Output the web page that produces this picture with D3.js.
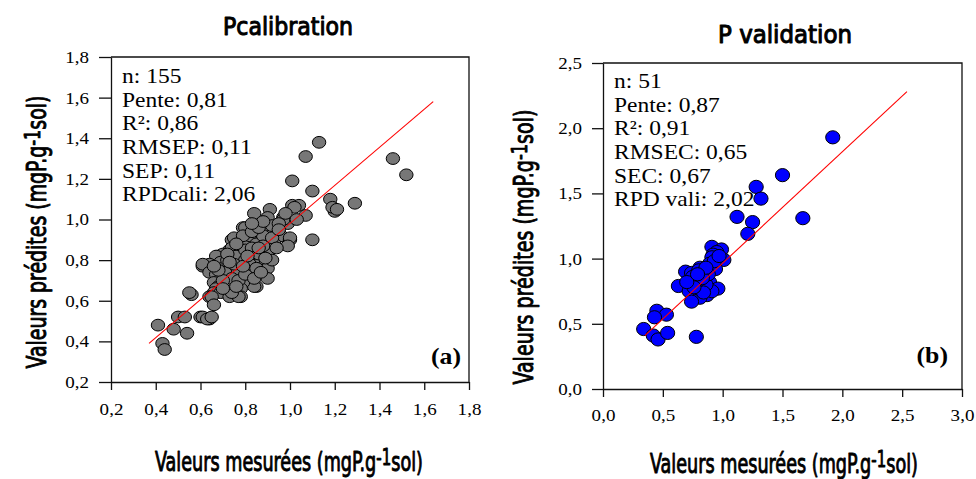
<!DOCTYPE html>
<html><head><meta charset="utf-8">
<script src="https://cdn.jsdelivr.net/npm/d3@7"></script>
<style>
html,body{margin:0;padding:0;background:#fff;}
svg{display:block;}
</style></head>
<body>
<svg id="chart" width="976" height="479"></svg>
<script>
// ---------- DATA ----------
const calX = [1.13,1.07,1.46,1.52,1.01,1.10,1.18,1.29,1.20,1.19,1.21,1.10,1.01,1.04,1.02,1.07,0.91,0.84,0.90,0.97,
0.99,0.97,0.79,0.84,0.90,0.80,0.89,0.93,0.96,1.00,1.00,0.74,0.81,0.87,0.75,0.86,0.93,0.99,0.73,0.81,
0.87,0.78,0.81,0.90,0.90,0.74,0.79,0.84,0.90,0.68,0.70,0.67,0.78,0.84,0.87,0.61,0.64,0.61,0.69,0.73,
0.77,0.78,0.87,0.81,0.81,0.89,0.90,0.64,0.69,0.67,0.71,0.75,0.73,0.78,0.83,0.90,0.85,0.84,0.66,0.72,
0.74,0.73,0.79,0.78,0.68,0.67,0.66,0.69,0.56,0.55,0.73,0.78,0.77,0.64,0.65,0.66,0.60,0.61,0.64,0.63,
0.65,0.50,0.53,0.41,0.48,0.54,0.43,0.44,
0.70,0.72,0.76,0.80,0.82,0.85,0.88,0.92,0.95,0.76,0.80,0.83,0.86,0.88,0.71,0.74,0.77,0.80,0.82,0.85,
0.75,0.72,0.79,0.83,0.86,0.92,0.94,0.70,0.68,0.66,0.76,0.79,0.84,0.87,0.92,0.95,0.98,1.03,0.88,0.83,
0.74,0.70,0.76,0.81,0.86,0.89,0.73];
const calY = [1.38,1.31,1.30,1.22,1.19,1.14,1.10,1.08,1.04,1.06,1.05,0.90,1.07,1.07,1.06,1.02,1.05,1.03,1.01,1.01,
0.98,1.00,0.96,0.95,0.95,0.96,0.95,0.94,0.92,0.90,0.91,0.90,0.90,0.90,0.91,0.90,0.88,0.87,0.85,0.87,
0.85,0.88,0.88,0.88,0.83,0.86,0.84,0.83,0.84,0.82,0.83,0.82,0.81,0.80,0.80,0.77,0.78,0.78,0.79,0.76,
0.79,0.79,0.79,0.75,0.77,0.78,0.76,0.74,0.73,0.73,0.71,0.73,0.75,0.72,0.74,0.71,0.67,0.67,0.69,0.69,
0.68,0.68,0.69,0.66,0.67,0.66,0.64,0.64,0.63,0.64,0.62,0.62,0.62,0.62,0.62,0.58,0.52,0.52,0.51,0.51,
0.52,0.52,0.52,0.48,0.46,0.44,0.39,0.36,
0.76,0.80,0.82,0.85,0.92,0.88,0.92,0.97,0.98,0.74,0.80,0.86,0.83,0.87,0.74,0.71,0.70,0.73,0.78,0.76,
0.78,0.83,0.92,0.94,0.96,0.91,0.86,0.70,0.75,0.77,0.88,0.77,0.71,0.74,0.80,0.95,1.03,1.00,0.99,0.98,
0.64,0.66,0.67,0.82,0.86,0.81,0.79];
const valX = [1.92,1.50,1.28,1.32,1.12,1.67,1.25,1.21,0.91,0.99,0.95,0.92,1.01,0.91,0.89,0.94,0.81,0.69,0.74,0.84,
0.80,0.78,0.75,0.89,0.63,0.96,0.72,0.87,0.81,0.74,0.91,0.80,0.86,0.77,0.84,0.45,0.53,0.43,0.34,0.42,
0.46,0.54,0.78,0.88,0.83,0.93,0.76,0.70,0.86,0.79,0.97];
const valY = [1.93,1.64,1.55,1.46,1.32,1.31,1.28,1.19,1.09,1.07,1.05,1.03,0.99,1.01,0.96,0.92,0.93,0.90,0.89,0.89,
0.91,0.84,0.86,0.82,0.79,0.77,0.75,0.72,0.70,0.67,0.75,0.77,0.80,0.80,0.74,0.60,0.57,0.55,0.46,0.41,
0.38,0.43,0.40,0.88,0.85,0.98,0.78,0.82,0.93,0.88,1.02];
const calFit = [[0.37,0.39],[1.64,1.58]];
const valFit = [[0.35,0.41],[2.54,2.28]];
const calTicks = [0.2,0.4,0.6,0.8,1.0,1.2,1.4,1.6,1.8];
const valTicks = [0.0,0.5,1.0,1.5,2.0,2.5,3.0];
const valYTicks = [0.0,0.5,1.0,1.5,2.0,2.5];
const calStats = ["n: 155","Pente: 0,81","R²: 0,86","RMSEP: 0,11","SEP: 0,11","RPDcali: 2,06"];
const valStats = ["n: 51","Pente: 0,87","R²: 0,91","RMSEC: 0,65","SEC: 0,67","RPD vali: 2,02"];
const titles = ["Pcalibration","P validation"];
const panelTags = ["(a)","(b)"];

// ---------- DRAW ----------
const svg = d3.select("#chart");
const condensed = "'DejaVu Sans Condensed','DejaVu Sans',sans-serif";
const serif = "'Liberation Serif','Times New Roman',serif";
const fmt = d => d3.format(".1f")(d).replace(".", ",");
const SX = 1.12; // horizontal stretch of the serif texts

function fitText(sel, tx, ty, rot, width) {
  const w = sel.node().getBBox().width;
  sel.attr("transform", `translate(${tx},${ty}) rotate(${rot}) scale(${width / w},1)`);
}

function labelText(g, main, tx, ty, rot, width, size) {
  const t = g.append("text").attr("x", 0).attr("y", 0)
    .attr("text-anchor", "middle").attr("font-family", condensed)
    .style("font-stretch", "condensed")
    .attr("stroke", "#000").attr("stroke-width", 0.9).attr("stroke-linejoin", "round")
    .attr("font-size", size).attr("fill", "#000");
  t.append("tspan").text(main);
  t.append("tspan").attr("dy", -6).attr("font-size", size * 0.85).text("-1");
  t.append("tspan").attr("dy", 6).text("sol)");
  fitText(t, tx, ty, rot, width);
}

function panel(cfg) {
  const g = svg.append("g");
  const x = d3.scaleLinear().domain(cfg.xd).range([cfg.l, cfg.r]);
  const y = d3.scaleLinear().domain(cfg.yd).range([cfg.b, cfg.t]);

  // frame (top and right)
  g.append("path")
    .attr("d", `M${cfg.l},${cfg.t}H${cfg.r}V${cfg.b}`)
    .attr("fill", "none").attr("stroke", "#111").attr("stroke-width", 1.3);

  const ax = g.append("g").attr("transform", `translate(0,${cfg.b})`)
    .call(d3.axisBottom(x).tickValues(cfg.xt).tickFormat(fmt).tickSize(8).tickSizeOuter(0));
  const ay = g.append("g").attr("transform", `translate(${cfg.l},0)`)
    .call(d3.axisLeft(y).tickValues(cfg.yt).tickFormat(fmt).tickSize(cfg.ytl).tickSizeOuter(0));
  [ax, ay].forEach(a => {
    a.attr("font-family", serif).attr("font-size", 17);
    a.selectAll("path,line").attr("stroke", "#111").attr("stroke-width", 1.3);
    a.selectAll("text").style("font-family", serif).style("font-size", "17px").attr("fill", "#000");
  });
  ax.selectAll("text").attr("y", cfg.xlabOff).attr("dy", null)
    .attr("transform", `scale(${SX},1)`);
  ay.selectAll("text").attr("x", cfg.ylabOff / SX)
    .attr("transform", `scale(${SX},1)`);

  // points
  g.append("g").selectAll("ellipse").data(cfg.px.map((d, i) => [d, cfg.py[i]]))
    .join("ellipse")
    .attr("cx", d => x(d[0])).attr("cy", d => y(d[1]))
    .attr("rx", cfg.rx).attr("ry", cfg.ry)
    .attr("fill", cfg.fill).attr("stroke", "#000").attr("stroke-width", 1);

  // fit line
  g.append("path").attr("d", d3.line().x(d => x(d[0])).y(d => y(d[1]))(cfg.fit))
    .attr("stroke", "#ff0000").attr("stroke-width", 1.1).attr("fill", "none");

  // stats
  g.append("g").attr("transform", `translate(${cfg.sx},0) scale(${SX},1)`)
    .selectAll("text").data(cfg.stats).join("text")
    .attr("x", 0).attr("y", (d, i) => cfg.sy + i * 23.7)
    .attr("font-family", serif).attr("font-size", 21).attr("fill", "#000")
    .text(d => d);

  // tag
  g.append("g").attr("transform", `translate(${cfg.tagX},0) scale(${SX},1)`)
    .append("text").attr("x", 0).attr("y", cfg.tagY).attr("text-anchor", "end")
    .attr("font-family", serif).attr("font-weight", "bold").attr("font-size", 23)
    .text(cfg.tag);

  // title
  const tt = g.append("text").attr("text-anchor", "middle").attr("font-family", condensed)
    .style("font-stretch", "condensed")
    .attr("stroke", "#000").attr("stroke-width", 1).attr("stroke-linejoin", "round")
    .attr("font-size", 25).text(cfg.title);
  fitText(tt, cfg.titleX, cfg.titleY, 0, cfg.titleW);

  labelText(g, "Valeurs mesurées (mgP.g", cfg.xlX, cfg.xlY, 0, cfg.xlW, 26);
  labelText(g, "Valeurs prédites (mgP.g", cfg.ylX, cfg.ylY, -90, cfg.ylW, 26);
}

panel({xd:[0.2,1.8], yd:[0.2,1.8], l:111, r:469, t:57, b:382, xt:calTicks, yt:calTicks, ytl:12,
  xlabOff:33, ylabOff:-22,
  px:calX, py:calY, rx:6.7, ry:5.9, fill:"#777777", fit:calFit, stats:calStats, sx:122, sy:83,
  tag:panelTags[0], tagX:461, tagY:364, title:titles[0], titleX:288, titleY:35, titleW:130,
  xlX:289, xlY:471, xlW:268, ylX:46, ylY:232, ylW:273});

panel({xd:[0,3], yd:[0,2.5], l:603, r:962, t:63, b:389, xt:valTicks, yt:valYTicks, ytl:11,
  xlabOff:32, ylabOff:-21,
  px:valX, py:valY, rx:7.1, ry:6.6, fill:"#0000ff", fit:valFit, stats:valStats, sx:614, sy:88,
  tag:panelTags[1], tagX:948, tagY:363, title:titles[1], titleX:785, titleY:43, titleW:134,
  xlX:784, xlY:473, xlW:268, ylX:533, ylY:247, ylW:275});
</script>
</body></html>
